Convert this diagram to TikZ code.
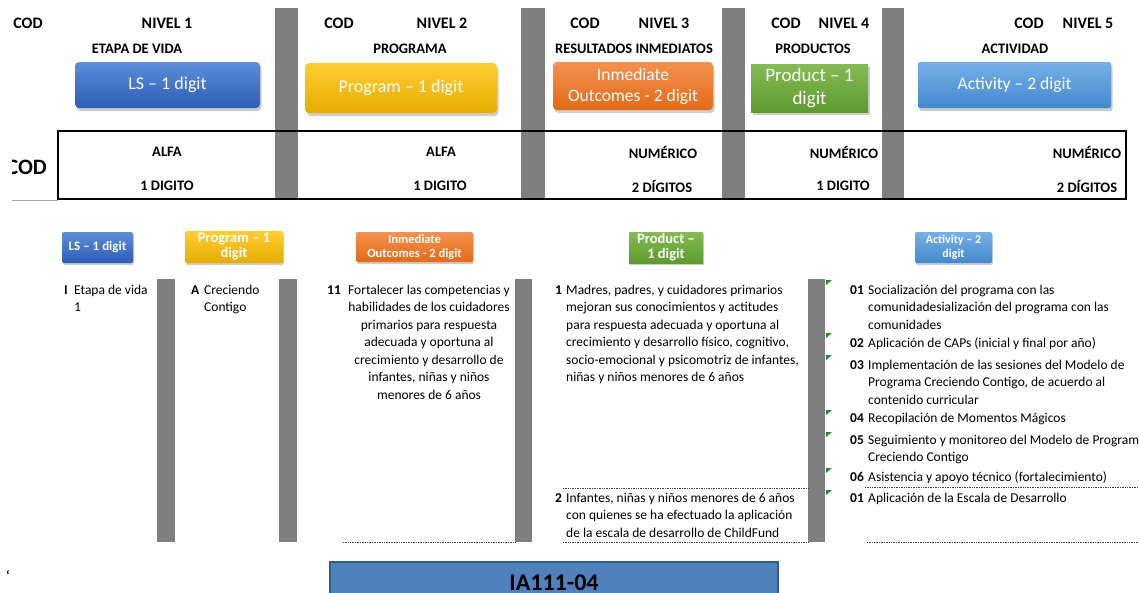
\documentclass[tikz,border=0pt]{standalone}
\usepackage{fontspec}
\setmainfont{Carlito}
\usepackage{tikz}
\usetikzlibrary{positioning,shadows}

\definecolor{lsTop}{HTML}{5C8EDB}
\definecolor{lsBot}{HTML}{2D5DB5}
\definecolor{progTop}{HTML}{FFCC33}
\definecolor{progBot}{HTML}{E6AC00}
\definecolor{outTop}{HTML}{F4914F}
\definecolor{outBot}{HTML}{E36A17}
\definecolor{prodTop}{HTML}{84BC52}
\definecolor{prodBot}{HTML}{5E9A2F}
\definecolor{actTop}{HTML}{76B0E8}
\definecolor{actBot}{HTML}{4388CC}
\definecolor{barGray}{HTML}{7F7F7F}
\definecolor{markGreen}{HTML}{2E8B2E}
\definecolor{iaFill}{HTML}{4F81BD}
\definecolor{iaBorder}{HTML}{2F5A8C}

% first line of a cell always 11pt high
\newcommand{\lnstrut}{\rule{0pt}{11pt}}

\tikzset{
  hdr/.style={font=\fontsize{16}{18}\selectfont\bfseries, inner sep=0pt},
  subhdr/.style={font=\fontsize{14.5}{17}\selectfont\bfseries, inner sep=0pt},
  bigbox/.style={rectangle, rounded corners=4pt, text=white, align=center, inner sep=0pt,
    font=\fontsize{18}{21}\selectfont,
    drop shadow={opacity=0.4, shadow xshift=1.5pt, shadow yshift=-3pt}},
  smallbox/.style={rectangle, rounded corners=2pt, text=white, align=center, inner sep=0pt,
    drop shadow={opacity=0.4, shadow xshift=1pt, shadow yshift=-2pt}},
  lsfill/.style={top color=lsTop, bottom color=lsBot},
  progfill/.style={top color=progTop, bottom color=progBot},
  outfill/.style={top color=outTop, bottom color=outBot},
  prodfill/.style={top color=prodTop, bottom color=prodBot},
  actfill/.style={top color=actTop, bottom color=actBot},
  greybar/.style={fill=barGray, draw=none},
  celltext/.style={font=\fontsize{13.5}{17.5}\selectfont, anchor=north west, align=left, inner sep=0pt},
  cellnum/.style={font=\fontsize{13.5}{17.5}\selectfont\bfseries, anchor=base west, inner sep=0pt},
  dotline/.style={densely dotted, line width=0.7pt, black!75},
  flagmark/.style={fill=markGreen, draw=none}
}

\begin{document}
\begin{tikzpicture}[x=1pt,y=-1pt]
\useasboundingbox (0,0) rectangle (1139,592);

% grey separators, top part
\fill[greybar] (275,8) rectangle (298,200);
\fill[greybar] (521,8) rectangle (545,200);
\fill[greybar] (722,8) rectangle (745,200);
\fill[greybar] (882,8) rectangle (904,200);

% headers
\node[hdr] (cod_1) at (28,23) {COD};
\node[hdr] (nivel_1) at (167,23) {NIVEL 1};
\node[hdr] (cod_2) at (339,23) {COD};
\node[hdr] (nivel_2) at (442,23) {NIVEL 2};
\node[hdr] (cod_3) at (585,23) {COD};
\node[hdr] (nivel_3) at (664,23) {NIVEL 3};
\node[hdr] (cod_4) at (786,23) {COD};
\node[hdr] (nivel_4) at (844,23) {NIVEL 4};
\node[hdr] (cod_5) at (1029,23) {COD};
\node[hdr] (nivel_5) at (1088,23) {NIVEL 5};

\node[subhdr] (sub_1) at (137,49) {ETAPA DE VIDA};
\node[subhdr] (sub_2) at (410,49) {PROGRAMA};
\node[subhdr] (sub_3) at (634,49) {RESULTADOS INMEDIATOS};
\node[subhdr] (sub_4) at (813,49) {PRODUCTOS};
\node[subhdr] (sub_5) at (1015,49) {ACTIVIDAD};

% big coloured boxes
\node[bigbox, lsfill, minimum width=185pt, minimum height=46pt] (box_ls) at (167.5,85) {LS -- 1 digit};
\node[bigbox, progfill, minimum width=192pt, minimum height=50pt] (box_prog) at (401,88) {Program -- 1 digit};
\node[bigbox, outfill, minimum width=160pt, minimum height=48pt,
  font=\fontsize{17.5}{21}\selectfont] (box_out) at (633,86) {Inmediate\\Outcomes - 2 digit};
\node[bigbox, prodfill, rounded corners=0pt, minimum width=117pt, minimum height=48pt,
  font=\fontsize{19}{23}\selectfont] (box_prod) at (809.5,88) {Product -- 1\\digit};
\node[bigbox, actfill, rounded corners=2pt, minimum width=193pt, minimum height=46pt,
  font=\fontsize{17.5}{21}\selectfont] (box_act) at (1014.5,85) {Activity -- 2 digit};

% code table
\draw[line width=1.6pt] (58,131) rectangle (1126,199);
\draw[black!35, line width=1pt] (12,200) -- (58,200);
\begin{scope}
\clip (12,140) rectangle (58,195);
\node[font=\fontsize{22}{24}\selectfont\bfseries, inner sep=0pt, anchor=east] (cod_row) at (47,167) {COD};
\end{scope}

\node[subhdr] (type_1) at (167,152) {ALFA};
\node[subhdr] (len_1) at (167,186) {1 DIGITO};
\node[subhdr] (type_2) at (441,152) {ALFA};
\node[subhdr] (len_2) at (440,186) {1 DIGITO};
\node[subhdr] (type_3) at (663,152) {NUMÉRICO};
\node[subhdr] (len_3) at (662,186) {2 DÍGITOS};
\node[subhdr] (type_4) at (844,152) {NUMÉRICO};
\node[subhdr] (len_4) at (843,186) {1 DIGITO};
\node[subhdr] (type_5) at (1087,152) {NUMÉRICO};
\node[subhdr] (len_5) at (1087,186) {2 DÍGITOS};

% small boxes
\node[smallbox, lsfill, minimum width=71pt, minimum height=31pt,
  font=\fontsize{13}{14}\selectfont\bfseries] (small_ls) at (97.5,247.5) {LS -- 1 digit};
\node[smallbox, progfill, minimum width=98pt, minimum height=32pt,
  font=\fontsize{14.5}{15}\selectfont\bfseries] (small_prog) at (234,247) {Program -- 1\\digit};
\node[smallbox, outfill, minimum width=117pt, minimum height=30pt,
  font=\fontsize{12.5}{13.5}\selectfont\bfseries] (small_out) at (414.5,247) {Inmediate\\Outcomes - 2 digit};
\node[smallbox, prodfill, rounded corners=0pt, minimum width=74pt, minimum height=31pt,
  font=\fontsize{14.5}{15}\selectfont\bfseries] (small_prod) at (666,247.5) {Product --\\1 digit};
\node[smallbox, actfill, minimum width=77pt, minimum height=31pt,
  font=\fontsize{12}{13.5}\selectfont\bfseries] (small_act) at (953.5,247.5) {Activity -- 2\\digit};

% grey separators, lower part
\fill[greybar] (157,279) rectangle (175,542);
\fill[greybar] (279,279) rectangle (297,542);
\fill[greybar] (515,279) rectangle (532,542);
\fill[greybar] (808,279) rectangle (825,542);
\foreach \y in {280,333,355,410,432,468,490}
  \fill[flagmark] (826,\y) -- (832,\y) -- (826,\y+5) -- cycle;

% level 1
\node[cellnum] (num_ls) at (64,294) {I};
\node[celltext] (txt_ls) at (74,283) {\lnstrut Etapa de vida\\1};
% level 2
\node[cellnum] (num_prog) at (191,294) {A};
\node[celltext] (txt_prog) at (204,283) {\lnstrut Creciendo\\Contigo};
% level 3
\node[cellnum] (num_out) at (327,294) {11};
\node[celltext, anchor=north, align=center] (txt_out) at (429,283)
  {\lnstrut Fortalecer las competencias y\\habilidades de los cuidadores\\primarios para respuesta\\adecuada y oportuna al\\crecimiento y desarrollo de\\infantes, niñas y niños\\menores de 6 años};
\draw[dotline] (343,542) -- (515,542);
% level 4
\node[cellnum] (num_prod_a) at (555,294) {1};
\node[celltext] (txt_prod_a) at (566,283)
  {\lnstrut Madres, padres, y cuidadores primarios\\mejoran sus conocimientos y actitudes\\para respuesta adecuada y oportuna al\\crecimiento y desarrollo físico, cognitivo,\\socio-emocional y psicomotriz de infantes,\\niñas y niños menores de 6 años};
\draw[dotline] (563,488) -- (808,488);
\node[cellnum] (num_prod_b) at (555,502) {2};
\node[celltext] (txt_prod_b) at (566,491)
  {\lnstrut Infantes, niñas y niños menores de 6 años\\con quienes se ha efectuado la aplicación\\de la escala de desarrollo de ChildFund};
\draw[dotline] (563,542) -- (808,542);
% level 5
\node[cellnum] (num_act_a) at (850,294) {01};
\node[celltext] (txt_act_a) at (868,283)
  {\lnstrut Socialización del programa con las\\comunidadesialización del programa con las\\comunidades};
\node[cellnum] (num_act_b) at (850,347) {02};
\node[celltext] (txt_act_b) at (868,336) {\lnstrut Aplicación de CAPs (inicial y final por año)};
\node[cellnum] (num_act_c) at (850,369) {03};
\node[celltext] (txt_act_c) at (868,358)
  {\lnstrut Implementación de las sesiones del Modelo de\\Programa Creciendo Contigo, de acuerdo al\\contenido curricular};
\node[cellnum] (num_act_d) at (850,422) {04};
\node[celltext] (txt_act_d) at (868,411) {\lnstrut Recopilación de Momentos Mágicos};
\node[cellnum] (num_act_e) at (850,444) {05};
\node[celltext] (txt_act_e) at (868,433)
  {\lnstrut Seguimiento y monitoreo del Modelo de Programa\\Creciendo Contigo};
\node[cellnum] (num_act_f) at (850,481) {06};
\node[celltext] (txt_act_f) at (868,470) {\lnstrut Asistencia y apoyo técnico (fortalecimiento)};
\draw[dotline] (865,487) -- (1139,487);
\node[cellnum] (num_act_g) at (850,502) {01};
\node[celltext] (txt_act_g) at (868,491) {\lnstrut Aplicación de la Escala de Desarrollo};
\draw[dotline] (867,542) -- (1139,542);

% code
\node[cellnum] (tick) at (6,580) {`};
\draw[draw=iaBorder, fill=iaFill, line width=1.2pt] (330,562) rectangle (778,602);
\node[font=\fontsize{24}{26}\selectfont\bfseries, inner sep=0pt] (code_label) at (554,583) {IA111-04};
\end{tikzpicture}
\end{document}
